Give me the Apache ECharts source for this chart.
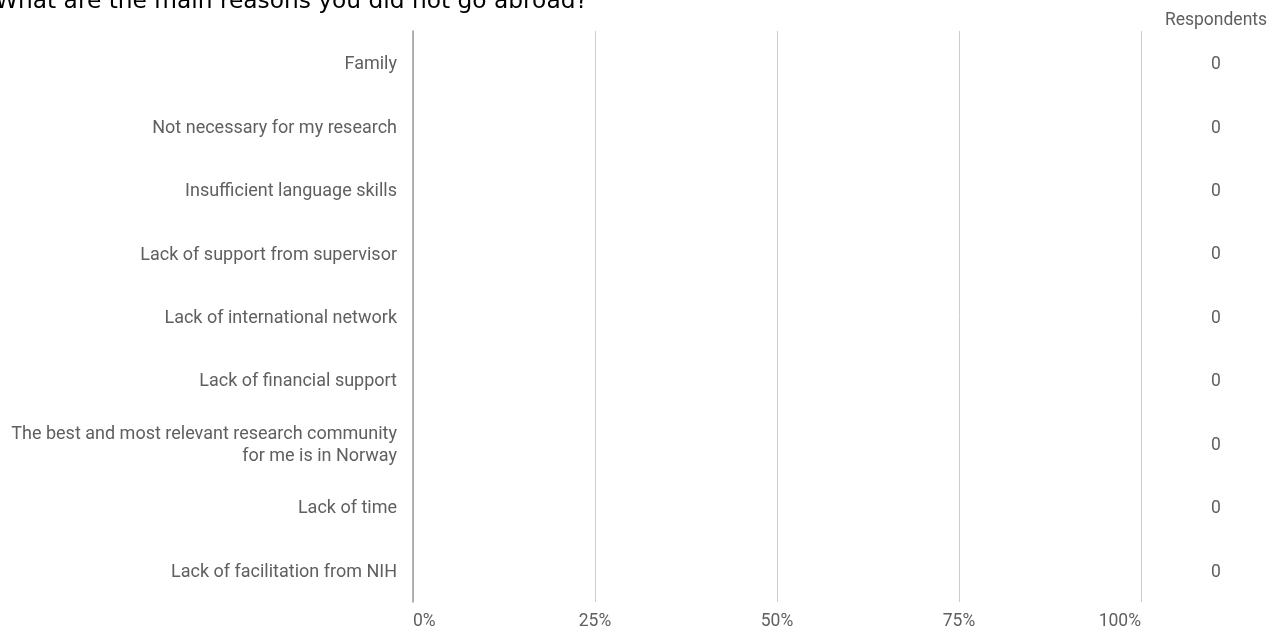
<!DOCTYPE html>
<html>
<head>
<meta charset="utf-8">
<script src="https://cdn.jsdelivr.net/npm/echarts@6/dist/echarts.min.js"></script>
<style>
html,body{margin:0;padding:0;background:#fff;}
#chart{width:1269px;height:630px;}
</style>
</head>
<body>
<div id="chart"></div>
<script>
const titleText = 'What are the main reasons you did not go abroad?';
const categories = [
  'Family',
  'Not necessary for my research',
  'Insufficient language skills',
  'Lack of support from supervisor',
  'Lack of international network',
  'Lack of financial support',
  'The best and most relevant research community\nfor me is in Norway',
  'Lack of time',
  'Lack of facilitation from NIH'
];
const shares = [0, 0, 0, 0, 0, 0, 0, 0, 0];
const respondents = [0, 0, 0, 0, 0, 0, 0, 0, 0];
const xTicks = [0, 0.25, 0.5, 0.75, 1];
const respondentsHeader = 'Respondents';

const labelColor = '#5f5f5f';
const chart = echarts.init(document.getElementById('chart'));
chart.setOption({
  animation: false,
  backgroundColor: '#fff',
  title: {
    text: titleText,
    left: -5,
    top: -10,
    padding: 0,
    textStyle: { fontFamily: 'DejaVu Sans', fontSize: 23.3, fontWeight: 'normal', color: '#000' }
  },
  graphic: [{
    type: 'text',
    x: 1216,
    y: 21,
    style: {
      text: respondentsHeader,
      fill: labelColor,
      font: '17.5px Roboto',
      textAlign: 'center',
      textVerticalAlign: 'middle'
    }
  }],
  grid: [
    { left: 413, right: 128, top: 31, bottom: 28, containLabel: false, outerBoundsMode: 'none' },
    { left: 413, right: 128, top: 33, bottom: 26, containLabel: false, outerBoundsMode: 'none' }
  ],
  xAxis: [{
    type: 'value',
    gridIndex: 0,
    min: xTicks[0],
    max: xTicks[xTicks.length - 1],
    interval: xTicks[1] - xTicks[0],
    axisLine: { show: false },
    axisTick: { show: false },
    splitLine: { show: true, lineStyle: { color: '#cccccc', width: 1 } },
    axisLabel: {
      color: labelColor,
      fontFamily: 'Roboto',
      fontSize: 17.5,
      margin: 11,
      alignMinLabel: 'left',
      alignMaxLabel: 'right',
      formatter: v => Math.round(v * 100) + '%'
    }
  }, {
    type: 'value',
    gridIndex: 1,
    min: xTicks[0],
    max: xTicks[xTicks.length - 1],
    show: false
  }],
  yAxis: [{
    type: 'category',
    gridIndex: 0,
    data: categories,
    inverse: true,
    axisLine: { show: true, lineStyle: { color: '#9e9e9e', width: 1.5 } },
    axisTick: { show: false },
    splitLine: { show: false },
    axisLabel: { show: false }
  }, {
    type: 'category',
    gridIndex: 1,
    data: categories,
    inverse: true,
    axisLine: { show: false },
    axisTick: { show: false },
    splitLine: { show: false },
    axisLabel: {
      color: labelColor,
      fontFamily: 'Roboto',
      fontSize: 18,
      margin: 16,
      lineHeight: 22,
      align: 'right'
    }
  }, {
    type: 'category',
    gridIndex: 1,
    data: respondents.map(String),
    inverse: true,
    position: 'right',
    axisLine: { show: false },
    axisTick: { show: false },
    splitLine: { show: false },
    axisLabel: {
      color: labelColor,
      fontFamily: 'Roboto',
      fontSize: 17.5,
      margin: 75,
      align: 'center'
    }
  }],
  series: [{
    type: 'bar',
    data: shares,
    xAxisIndex: 0,
    yAxisIndex: 0,
    barWidth: '60%',
    itemStyle: { color: '#4285f4' }
  }]
});
</script>
</body>
</html>
